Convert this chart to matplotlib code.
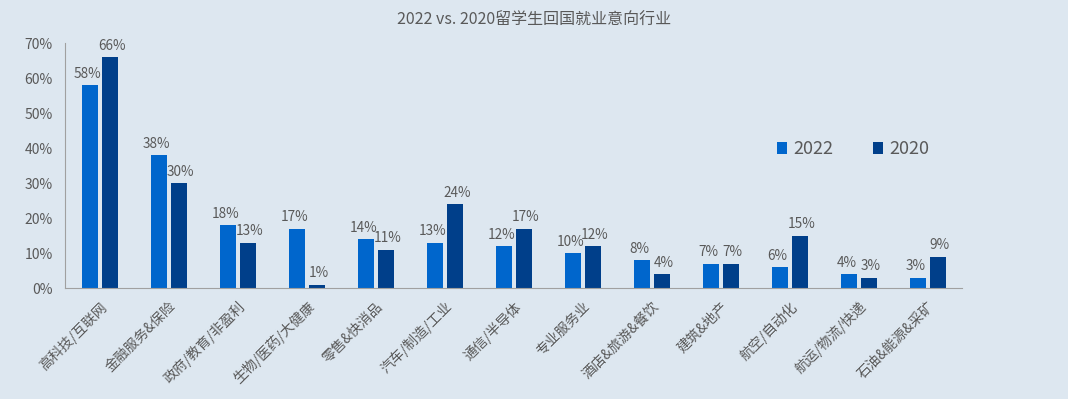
import matplotlib.pyplot as plt
import numpy as np

plt.rcParams['font.family'] = ['Noto Sans CJK SC', 'DejaVu Sans']

categories = ["高科技/互联网", "金融服务&保险", "政府/教育/非盈利", "生物/医药/大健康",
              "零售&快消品", "汽车/制造/工业", "通信/半导体", "专业服务业",
              "酒店&旅游&餐饮", "建筑&地产", "航空/自动化", "航运/物流/快递",
              "石油&能源&采矿"]
vals_2022 = [58, 38, 18, 17, 14, 13, 12, 10, 8, 7, 6, 4, 3]
vals_2020 = [66, 30, 13, 1, 11, 24, 17, 12, 4, 7, 15, 3, 9]
yticks = [0, 10, 20, 30, 40, 50, 60, 70]

bg = "#dde7f0"
c22 = "#0066cc"
c20 = "#003f8a"
txt = "#595959"

fig = plt.figure(figsize=(10.68, 3.99), dpi=100, facecolor=bg)
ax = fig.add_axes([0.061, 0.278, 0.84, 0.614], facecolor=bg)

x = np.arange(len(categories))
w = 0.23
gap = 0.06
b1 = ax.bar(x - (w + gap) / 2, vals_2022, w, color=c22, label="2022")
b2 = ax.bar(x + (w + gap) / 2, vals_2020, w, color=c20, label="2020")

# value labels, nudged apart a little so neighbours don't collide
for bars, vals, dx in [(b1, vals_2022, -1.5), (b2, vals_2020, 1.5)]:
    for b, v in zip(bars, vals):
        ax.annotate(f"{v}%", (b.get_x() + b.get_width() / 2, v),
                    xytext=(dx, 3), textcoords="offset points",
                    ha="center", va="bottom", fontsize=9.8, color=txt)

ax.set_xlim(-0.5, len(categories) - 0.5)
ax.set_ylim(0, 70)
ax.set_yticks(yticks)
ax.set_yticklabels([f"{t}%" for t in yticks], fontsize=10, color=txt)
ax.set_xticks(x)
ax.set_xticklabels(categories, rotation=45, ha="right", rotation_mode="anchor",
                   fontsize=10, color=txt)
ax.tick_params(length=0, pad=8)
ax.tick_params(axis="y", pad=9)
for s in ["top", "right"]:
    ax.spines[s].set_visible(False)
for s in ["left", "bottom"]:
    ax.spines[s].set_color("#a0a0a0")

ax.legend(loc="upper left", bbox_to_anchor=(0.775, 0.67), ncol=2, frameon=False,
          fontsize=13, labelcolor=txt, handlelength=0.6, handleheight=0.6,
          handletextpad=0.3, columnspacing=2.2)

fig.suptitle("2022 vs. 2020留学生回国就业意向行业", y=0.97, fontsize=11.5, color=txt)

fig.savefig("out.png", dpi=100, facecolor=bg)
